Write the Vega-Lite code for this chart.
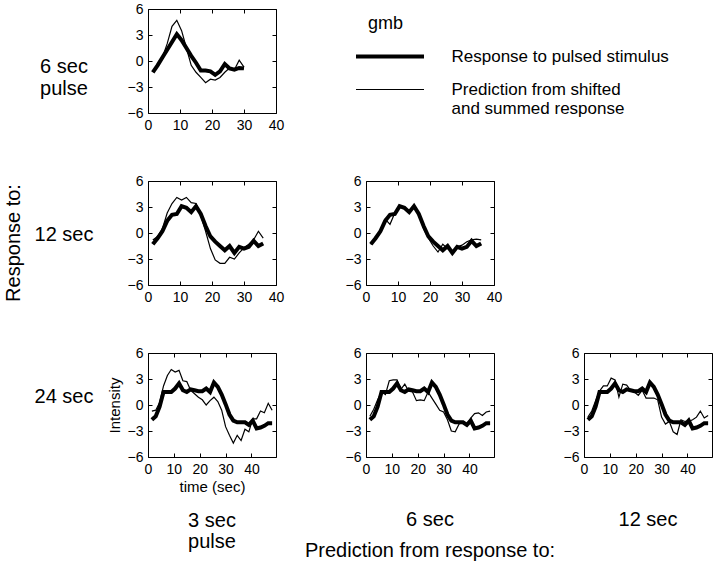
{
  "$schema": "https://vega.github.io/schema/vega-lite/v6.json",
  "background": "white",
  "padding": {"left": 0, "top": 1, "right": 5, "bottom": 5},
  "autosize": {"type": "pad"},
  "datasets": {
    "resp": [
      {"r":"6 sec","t":1.5,"v":-1.3},{"r":"6 sec","t":3,"v":-0.5},{"r":"6 sec","t":4.5,"v":0.4},{"r":"6 sec","t":6,"v":1.3},{"r":"6 sec","t":7.5,"v":2.2},{"r":"6 sec","t":9,"v":3.1},{"r":"6 sec","t":10.5,"v":2.4},{"r":"6 sec","t":12,"v":1.5},{"r":"6 sec","t":13.5,"v":0.6},{"r":"6 sec","t":15,"v":-0.2},{"r":"6 sec","t":16.5,"v":-1.1},{"r":"6 sec","t":18,"v":-1.1},{"r":"6 sec","t":19.5,"v":-1.2},{"r":"6 sec","t":21,"v":-1.6},{"r":"6 sec","t":22.5,"v":-1.2},{"r":"6 sec","t":24,"v":-0.35},{"r":"6 sec","t":25.5,"v":-0.85},{"r":"6 sec","t":27,"v":-1.0},{"r":"6 sec","t":28.5,"v":-0.8},{"r":"6 sec","t":30,"v":-0.85},
      {"r":"12 sec","t":1.5,"v":-1.3},{"r":"12 sec","t":3,"v":-0.6},{"r":"12 sec","t":4.5,"v":0.2},{"r":"12 sec","t":6,"v":1.4},{"r":"12 sec","t":7.5,"v":2.1},{"r":"12 sec","t":9,"v":2.2},{"r":"12 sec","t":10.5,"v":3.1},{"r":"12 sec","t":12,"v":2.9},{"r":"12 sec","t":13.5,"v":2.4},{"r":"12 sec","t":15,"v":3.1},{"r":"12 sec","t":16.5,"v":2.2},{"r":"12 sec","t":18,"v":0.8},{"r":"12 sec","t":19.5,"v":-0.4},{"r":"12 sec","t":21,"v":-1.0},{"r":"12 sec","t":22.5,"v":-1.5},{"r":"12 sec","t":24,"v":-2.0},{"r":"12 sec","t":25.5,"v":-1.5},{"r":"12 sec","t":27,"v":-2.3},{"r":"12 sec","t":28.5,"v":-1.6},{"r":"12 sec","t":30,"v":-1.8},{"r":"12 sec","t":31.5,"v":-1.6},{"r":"12 sec","t":33,"v":-0.9},{"r":"12 sec","t":34.5,"v":-1.5},{"r":"12 sec","t":36,"v":-1.2},
      {"r":"24 sec","t":1.5,"v":-1.7},{"r":"24 sec","t":3,"v":-1.3},{"r":"24 sec","t":4.5,"v":-0.2},{"r":"24 sec","t":6,"v":1.5},{"r":"24 sec","t":7.5,"v":1.5},{"r":"24 sec","t":9,"v":1.5},{"r":"24 sec","t":10.5,"v":1.9},{"r":"24 sec","t":12,"v":2.5},{"r":"24 sec","t":13.5,"v":1.7},{"r":"24 sec","t":15,"v":1.5},{"r":"24 sec","t":16.5,"v":1.8},{"r":"24 sec","t":18,"v":1.7},{"r":"24 sec","t":19.5,"v":1.6},{"r":"24 sec","t":21,"v":1.6},{"r":"24 sec","t":22.5,"v":1.9},{"r":"24 sec","t":24,"v":1.5},{"r":"24 sec","t":25.5,"v":2.6},{"r":"24 sec","t":27,"v":2.1},{"r":"24 sec","t":28.5,"v":1.2},{"r":"24 sec","t":30,"v":0.1},{"r":"24 sec","t":31.5,"v":-1.1},{"r":"24 sec","t":33,"v":-1.8},{"r":"24 sec","t":34.5,"v":-2.0},{"r":"24 sec","t":36,"v":-2.0},{"r":"24 sec","t":37.5,"v":-2.0},{"r":"24 sec","t":39,"v":-2.3},{"r":"24 sec","t":40.5,"v":-1.8},{"r":"24 sec","t":42,"v":-2.7},{"r":"24 sec","t":43.5,"v":-2.6},{"r":"24 sec","t":45,"v":-2.4},{"r":"24 sec","t":46.5,"v":-2.1},{"r":"24 sec","t":48,"v":-2.1}
    ],
    "pred": [
      {"r":"6 sec","p":"3 sec","t":1.5,"v":-1.2},{"r":"6 sec","p":"3 sec","t":3,"v":-0.6},{"r":"6 sec","p":"3 sec","t":4.5,"v":0.4},{"r":"6 sec","p":"3 sec","t":6,"v":2.0},{"r":"6 sec","p":"3 sec","t":7.5,"v":4.0},{"r":"6 sec","p":"3 sec","t":9,"v":4.7},{"r":"6 sec","p":"3 sec","t":10.5,"v":3.5},{"r":"6 sec","p":"3 sec","t":12,"v":1.5},{"r":"6 sec","p":"3 sec","t":13.5,"v":-0.5},{"r":"6 sec","p":"3 sec","t":15,"v":-1.3},{"r":"6 sec","p":"3 sec","t":16.5,"v":-1.9},{"r":"6 sec","p":"3 sec","t":18,"v":-2.5},{"r":"6 sec","p":"3 sec","t":19.5,"v":-2.1},{"r":"6 sec","p":"3 sec","t":21,"v":-2.2},{"r":"6 sec","p":"3 sec","t":22.5,"v":-1.9},{"r":"6 sec","p":"3 sec","t":24,"v":-1.3},{"r":"6 sec","p":"3 sec","t":25.5,"v":-0.8},{"r":"6 sec","p":"3 sec","t":27,"v":-1.0},{"r":"6 sec","p":"3 sec","t":28.5,"v":0.1},{"r":"6 sec","p":"3 sec","t":30,"v":-0.7},
      {"r":"12 sec","p":"3 sec","t":1.5,"v":-0.8},{"r":"12 sec","p":"3 sec","t":3,"v":-0.4},{"r":"12 sec","p":"3 sec","t":4.5,"v":0.5},{"r":"12 sec","p":"3 sec","t":6,"v":2.3},{"r":"12 sec","p":"3 sec","t":7.5,"v":3.4},{"r":"12 sec","p":"3 sec","t":9,"v":4.1},{"r":"12 sec","p":"3 sec","t":10.5,"v":3.8},{"r":"12 sec","p":"3 sec","t":12,"v":4.1},{"r":"12 sec","p":"3 sec","t":13.5,"v":3.5},{"r":"12 sec","p":"3 sec","t":15,"v":3.4},{"r":"12 sec","p":"3 sec","t":16.5,"v":2.0},{"r":"12 sec","p":"3 sec","t":18,"v":0.2},{"r":"12 sec","p":"3 sec","t":19.5,"v":-1.8},{"r":"12 sec","p":"3 sec","t":21,"v":-3.1},{"r":"12 sec","p":"3 sec","t":22.5,"v":-3.5},{"r":"12 sec","p":"3 sec","t":24,"v":-3.5},{"r":"12 sec","p":"3 sec","t":25.5,"v":-2.8},{"r":"12 sec","p":"3 sec","t":27,"v":-3.0},{"r":"12 sec","p":"3 sec","t":28.5,"v":-2.3},{"r":"12 sec","p":"3 sec","t":30,"v":-1.7},{"r":"12 sec","p":"3 sec","t":31.5,"v":-1.3},{"r":"12 sec","p":"3 sec","t":33,"v":-0.8},{"r":"12 sec","p":"3 sec","t":34.5,"v":0.2},{"r":"12 sec","p":"3 sec","t":36,"v":-0.6},
      {"r":"12 sec","p":"6 sec","t":1.5,"v":-1.3},{"r":"12 sec","p":"6 sec","t":3,"v":-0.6},{"r":"12 sec","p":"6 sec","t":4.5,"v":0.3},{"r":"12 sec","p":"6 sec","t":6,"v":1.6},{"r":"12 sec","p":"6 sec","t":7.5,"v":1.0},{"r":"12 sec","p":"6 sec","t":9,"v":2.3},{"r":"12 sec","p":"6 sec","t":10.5,"v":3.1},{"r":"12 sec","p":"6 sec","t":12,"v":2.8},{"r":"12 sec","p":"6 sec","t":13.5,"v":2.6},{"r":"12 sec","p":"6 sec","t":15,"v":2.9},{"r":"12 sec","p":"6 sec","t":16.5,"v":2.2},{"r":"12 sec","p":"6 sec","t":18,"v":0.5},{"r":"12 sec","p":"6 sec","t":19.5,"v":-0.6},{"r":"12 sec","p":"6 sec","t":21,"v":-1.5},{"r":"12 sec","p":"6 sec","t":22.5,"v":-2.2},{"r":"12 sec","p":"6 sec","t":24,"v":-1.3},{"r":"12 sec","p":"6 sec","t":25.5,"v":-1.8},{"r":"12 sec","p":"6 sec","t":27,"v":-2.2},{"r":"12 sec","p":"6 sec","t":28.5,"v":-1.6},{"r":"12 sec","p":"6 sec","t":30,"v":-1.4},{"r":"12 sec","p":"6 sec","t":31.5,"v":-1.0},{"r":"12 sec","p":"6 sec","t":33,"v":-0.8},{"r":"12 sec","p":"6 sec","t":34.5,"v":-0.7},{"r":"12 sec","p":"6 sec","t":36,"v":-0.8},
      {"r":"24 sec","p":"3 sec","t":1.5,"v":-0.7},{"r":"24 sec","p":"3 sec","t":3,"v":-0.6},{"r":"24 sec","p":"3 sec","t":4.5,"v":0.3},{"r":"24 sec","p":"3 sec","t":6,"v":2.2},{"r":"24 sec","p":"3 sec","t":7.5,"v":3.4},{"r":"24 sec","p":"3 sec","t":9,"v":4.1},{"r":"24 sec","p":"3 sec","t":10.5,"v":3.8},{"r":"24 sec","p":"3 sec","t":12,"v":4.0},{"r":"24 sec","p":"3 sec","t":13.5,"v":2.8},{"r":"24 sec","p":"3 sec","t":15,"v":2.7},{"r":"24 sec","p":"3 sec","t":16.5,"v":1.7},{"r":"24 sec","p":"3 sec","t":18,"v":1.3},{"r":"24 sec","p":"3 sec","t":19.5,"v":0.9},{"r":"24 sec","p":"3 sec","t":21,"v":0.6},{"r":"24 sec","p":"3 sec","t":22.5,"v":0.0},{"r":"24 sec","p":"3 sec","t":24,"v":0.5},{"r":"24 sec","p":"3 sec","t":25.5,"v":0.9},{"r":"24 sec","p":"3 sec","t":27,"v":0.4},{"r":"24 sec","p":"3 sec","t":28.5,"v":-0.6},{"r":"24 sec","p":"3 sec","t":30,"v":-2.5},{"r":"24 sec","p":"3 sec","t":31.5,"v":-3.5},{"r":"24 sec","p":"3 sec","t":33,"v":-4.4},{"r":"24 sec","p":"3 sec","t":34.5,"v":-3.5},{"r":"24 sec","p":"3 sec","t":36,"v":-4.1},{"r":"24 sec","p":"3 sec","t":37.5,"v":-2.8},{"r":"24 sec","p":"3 sec","t":39,"v":-3.1},{"r":"24 sec","p":"3 sec","t":40.5,"v":-1.6},{"r":"24 sec","p":"3 sec","t":42,"v":-1.6},{"r":"24 sec","p":"3 sec","t":43.5,"v":-0.7},{"r":"24 sec","p":"3 sec","t":45,"v":-0.9},{"r":"24 sec","p":"3 sec","t":46.5,"v":0.2},{"r":"24 sec","p":"3 sec","t":48,"v":-0.6},
      {"r":"24 sec","p":"6 sec","t":1.5,"v":-1.3},{"r":"24 sec","p":"6 sec","t":3,"v":-0.5},{"r":"24 sec","p":"6 sec","t":4.5,"v":0.6},{"r":"24 sec","p":"6 sec","t":6,"v":1.5},{"r":"24 sec","p":"6 sec","t":7.5,"v":1.2},{"r":"24 sec","p":"6 sec","t":9,"v":2.8},{"r":"24 sec","p":"6 sec","t":10.5,"v":2.9},{"r":"24 sec","p":"6 sec","t":12,"v":2.9},{"r":"24 sec","p":"6 sec","t":13.5,"v":1.8},{"r":"24 sec","p":"6 sec","t":15,"v":2.4},{"r":"24 sec","p":"6 sec","t":16.5,"v":1.6},{"r":"24 sec","p":"6 sec","t":18,"v":1.5},{"r":"24 sec","p":"6 sec","t":19.5,"v":0.5},{"r":"24 sec","p":"6 sec","t":21,"v":0.6},{"r":"24 sec","p":"6 sec","t":22.5,"v":0.5},{"r":"24 sec","p":"6 sec","t":24,"v":1.5},{"r":"24 sec","p":"6 sec","t":25.5,"v":0.8},{"r":"24 sec","p":"6 sec","t":27,"v":0.1},{"r":"24 sec","p":"6 sec","t":28.5,"v":-0.6},{"r":"24 sec","p":"6 sec","t":30,"v":-0.8},{"r":"24 sec","p":"6 sec","t":31.5,"v":-1.7},{"r":"24 sec","p":"6 sec","t":33,"v":-3.0},{"r":"24 sec","p":"6 sec","t":34.5,"v":-3.1},{"r":"24 sec","p":"6 sec","t":36,"v":-2.2},{"r":"24 sec","p":"6 sec","t":37.5,"v":-2.0},{"r":"24 sec","p":"6 sec","t":39,"v":-2.3},{"r":"24 sec","p":"6 sec","t":40.5,"v":-1.5},{"r":"24 sec","p":"6 sec","t":42,"v":-1.0},{"r":"24 sec","p":"6 sec","t":43.5,"v":-0.9},{"r":"24 sec","p":"6 sec","t":45,"v":-1.2},{"r":"24 sec","p":"6 sec","t":46.5,"v":-0.8},{"r":"24 sec","p":"6 sec","t":48,"v":-0.7},
      {"r":"24 sec","p":"12 sec","t":1.5,"v":-1.4},{"r":"24 sec","p":"12 sec","t":3,"v":-0.7},{"r":"24 sec","p":"12 sec","t":4.5,"v":0.5},{"r":"24 sec","p":"12 sec","t":6,"v":1.6},{"r":"24 sec","p":"12 sec","t":7.5,"v":2.2},{"r":"24 sec","p":"12 sec","t":9,"v":2.2},{"r":"24 sec","p":"12 sec","t":10.5,"v":3.1},{"r":"24 sec","p":"12 sec","t":12,"v":2.9},{"r":"24 sec","p":"12 sec","t":13.5,"v":0.9},{"r":"24 sec","p":"12 sec","t":15,"v":2.4},{"r":"24 sec","p":"12 sec","t":16.5,"v":2.3},{"r":"24 sec","p":"12 sec","t":18,"v":1.7},{"r":"24 sec","p":"12 sec","t":19.5,"v":1.5},{"r":"24 sec","p":"12 sec","t":21,"v":1.1},{"r":"24 sec","p":"12 sec","t":22.5,"v":1.7},{"r":"24 sec","p":"12 sec","t":24,"v":0.8},{"r":"24 sec","p":"12 sec","t":25.5,"v":0.8},{"r":"24 sec","p":"12 sec","t":27,"v":0.8},{"r":"24 sec","p":"12 sec","t":28.5,"v":0.6},{"r":"24 sec","p":"12 sec","t":30,"v":-1.4},{"r":"24 sec","p":"12 sec","t":31.5,"v":-2.2},{"r":"24 sec","p":"12 sec","t":33,"v":-1.9},{"r":"24 sec","p":"12 sec","t":34.5,"v":-3.1},{"r":"24 sec","p":"12 sec","t":36,"v":-3.4},{"r":"24 sec","p":"12 sec","t":37.5,"v":-1.7},{"r":"24 sec","p":"12 sec","t":39,"v":-1.9},{"r":"24 sec","p":"12 sec","t":40.5,"v":-1.9},{"r":"24 sec","p":"12 sec","t":42,"v":-1.7},{"r":"24 sec","p":"12 sec","t":43.5,"v":-1.4},{"r":"24 sec","p":"12 sec","t":45,"v":-0.7},{"r":"24 sec","p":"12 sec","t":46.5,"v":-1.5},{"r":"24 sec","p":"12 sec","t":48,"v":-1.2}
    ]
  },
  "columns": 4,
  "bounds": "flush",
  "spacing": {"row": 68, "column": 90},
  "concat": [
    {"width": 58, "height": 104, "view": {"stroke": null}, "data": {"values": [{"s": "6 sec\npulse"}]}, "mark": {"type": "text", "dx": 35, "dy": 6, "lineBreak": "\n", "lineHeight": 22}, "encoding": {"text": {"field": "s"}}},
    {"width": 128, "height": 104,
     "layer": [
      {"data": {"name": "resp"}, "transform": [{"filter": "datum.r == '6 sec'"}], "mark": {"type": "line", "color": "black"},
       "encoding": {"x": {"field": "t", "type": "quantitative", "scale": {"domain": [0, 40], "nice": false, "zero": false}, "axis": {"orient": "top", "labels": false, "title": null, "values": [0, 10, 20, 30, 40]}},
                    "y": {"field": "v", "type": "quantitative", "scale": {"domain": [-6, 6], "nice": false}, "axis": {"orient": "right", "labels": false, "title": null, "values": [-6, -3, 0, 3, 6]}},
                    "strokeWidth": {"datum": "Response to pulsed stimulus", "type": "ordinal", "title": "gmb", "scale": {"domain": ["Response to pulsed stimulus", "Prediction  from shifted\nand summed response"], "range": [4, 1.2]}, "legend": {"orient": "none", "legendX": 368, "legendY": 6, "symbolType": "M-10,0H10", "labelExpr": "split(datum.label, '\\n')"}}}},
      {"data": {"name": "pred"}, "transform": [{"filter": "datum.r == '6 sec' && datum.p == '3 sec'"}], "mark": {"type": "line", "color": "black"},
       "encoding": {"x": {"field": "t", "type": "quantitative", "scale": {"domain": [0, 40], "nice": false, "zero": false}, "axis": {"orient": "bottom", "title": null, "values": [0, 10, 20, 30, 40]}},
                    "y": {"field": "v", "type": "quantitative", "scale": {"domain": [-6, 6], "nice": false}, "axis": {"orient": "left", "title": null, "values": [-6, -3, 0, 3, 6]}},
                    "strokeWidth": {"datum": "Prediction  from shifted\nand summed response", "type": "ordinal", "title": "gmb", "scale": {"domain": ["Response to pulsed stimulus", "Prediction  from shifted\nand summed response"], "range": [4, 1.2]}, "legend": {"orient": "none", "legendX": 368, "legendY": 6, "symbolType": "M-10,0H10", "labelExpr": "split(datum.label, '\\n')"}}}}
     ],
     "resolve": {"axis": {"x": "independent", "y": "independent"}}},
    {"width": 128, "height": 104, "view": {"stroke": null}, "data": {"values": [{}]}, "mark": "text"},
    {"width": 128, "height": 104, "view": {"stroke": null}, "data": {"values": [{}]}, "mark": "text"},

    {"width": 58, "height": 104, "view": {"stroke": null},
     "layer": [
      {"data": {"values": [{"s": "12 sec"}]}, "mark": {"type": "text", "dx": 35, "dy": 2}, "encoding": {"text": {"field": "s"}}},
      {"data": {"values": [{"s": "Response to:"}]}, "mark": {"type": "text", "angle": 270, "dx": -10, "dy": -15}, "encoding": {"text": {"field": "s"}}}
     ]},
    {"width": 128, "height": 104,
     "layer": [
      {"data": {"name": "resp"}, "transform": [{"filter": "datum.r == '12 sec'"}], "mark": {"type": "line", "color": "black"},
       "encoding": {"x": {"field": "t", "type": "quantitative", "scale": {"domain": [0, 40], "nice": false, "zero": false}, "axis": {"orient": "top", "labels": false, "title": null, "values": [0, 10, 20, 30, 40]}},
                    "y": {"field": "v", "type": "quantitative", "scale": {"domain": [-6, 6], "nice": false}, "axis": {"orient": "right", "labels": false, "title": null, "values": [-6, -3, 0, 3, 6]}},
                    "strokeWidth": {"datum": "Response to pulsed stimulus", "type": "ordinal", "title": "gmb", "scale": {"domain": ["Response to pulsed stimulus", "Prediction  from shifted\nand summed response"], "range": [4, 1.2]}, "legend": {"orient": "none", "legendX": 368, "legendY": 6, "symbolType": "M-10,0H10", "labelExpr": "split(datum.label, '\\n')"}}}},
      {"data": {"name": "pred"}, "transform": [{"filter": "datum.r == '12 sec' && datum.p == '3 sec'"}], "mark": {"type": "line", "color": "black"},
       "encoding": {"x": {"field": "t", "type": "quantitative", "scale": {"domain": [0, 40], "nice": false, "zero": false}, "axis": {"orient": "bottom", "title": null, "values": [0, 10, 20, 30, 40]}},
                    "y": {"field": "v", "type": "quantitative", "scale": {"domain": [-6, 6], "nice": false}, "axis": {"orient": "left", "title": null, "values": [-6, -3, 0, 3, 6]}},
                    "strokeWidth": {"datum": "Prediction  from shifted\nand summed response", "type": "ordinal", "title": "gmb", "scale": {"domain": ["Response to pulsed stimulus", "Prediction  from shifted\nand summed response"], "range": [4, 1.2]}, "legend": {"orient": "none", "legendX": 368, "legendY": 6, "symbolType": "M-10,0H10", "labelExpr": "split(datum.label, '\\n')"}}}}
     ],
     "resolve": {"axis": {"x": "independent", "y": "independent"}}},
    {"width": 128, "height": 104,
     "layer": [
      {"data": {"name": "resp"}, "transform": [{"filter": "datum.r == '12 sec'"}], "mark": {"type": "line", "color": "black"},
       "encoding": {"x": {"field": "t", "type": "quantitative", "scale": {"domain": [0, 40], "nice": false, "zero": false}, "axis": {"orient": "top", "labels": false, "title": null, "values": [0, 10, 20, 30, 40]}},
                    "y": {"field": "v", "type": "quantitative", "scale": {"domain": [-6, 6], "nice": false}, "axis": {"orient": "right", "labels": false, "title": null, "values": [-6, -3, 0, 3, 6]}},
                    "strokeWidth": {"datum": "Response to pulsed stimulus", "type": "ordinal", "title": "gmb", "scale": {"domain": ["Response to pulsed stimulus", "Prediction  from shifted\nand summed response"], "range": [4, 1.2]}, "legend": {"orient": "none", "legendX": 368, "legendY": 6, "symbolType": "M-10,0H10", "labelExpr": "split(datum.label, '\\n')"}}}},
      {"data": {"name": "pred"}, "transform": [{"filter": "datum.r == '12 sec' && datum.p == '6 sec'"}], "mark": {"type": "line", "color": "black"},
       "encoding": {"x": {"field": "t", "type": "quantitative", "scale": {"domain": [0, 40], "nice": false, "zero": false}, "axis": {"orient": "bottom", "title": null, "values": [0, 10, 20, 30, 40]}},
                    "y": {"field": "v", "type": "quantitative", "scale": {"domain": [-6, 6], "nice": false}, "axis": {"orient": "left", "title": null, "values": [-6, -3, 0, 3, 6]}},
                    "strokeWidth": {"datum": "Prediction  from shifted\nand summed response", "type": "ordinal", "title": "gmb", "scale": {"domain": ["Response to pulsed stimulus", "Prediction  from shifted\nand summed response"], "range": [4, 1.2]}, "legend": {"orient": "none", "legendX": 368, "legendY": 6, "symbolType": "M-10,0H10", "labelExpr": "split(datum.label, '\\n')"}}}}
     ],
     "resolve": {"axis": {"x": "independent", "y": "independent"}}},
    {"width": 128, "height": 104, "view": {"stroke": null}, "data": {"values": [{}]}, "mark": "text"},

    {"width": 58, "height": 104, "view": {"stroke": null}, "data": {"values": [{"s": "24 sec"}]}, "mark": {"type": "text", "dx": 35, "dy": -8}, "encoding": {"text": {"field": "s"}}},
    {"width": 128, "height": 104,
     "layer": [
      {"data": {"name": "resp"}, "transform": [{"filter": "datum.r == '24 sec'"}], "mark": {"type": "line", "color": "black"},
       "encoding": {"x": {"field": "t", "type": "quantitative", "scale": {"domain": [0, 49.5], "nice": false, "zero": false}, "axis": {"orient": "top", "labels": false, "title": null, "values": [0, 10, 20, 30, 40]}},
                    "y": {"field": "v", "type": "quantitative", "scale": {"domain": [-6, 6], "nice": false}, "axis": {"orient": "right", "labels": false, "title": null, "values": [-6, -3, 0, 3, 6]}},
                    "strokeWidth": {"datum": "Response to pulsed stimulus", "type": "ordinal", "title": "gmb", "scale": {"domain": ["Response to pulsed stimulus", "Prediction  from shifted\nand summed response"], "range": [4, 1.2]}, "legend": {"orient": "none", "legendX": 368, "legendY": 6, "symbolType": "M-10,0H10", "labelExpr": "split(datum.label, '\\n')"}}}},
      {"data": {"name": "pred"}, "transform": [{"filter": "datum.r == '24 sec' && datum.p == '3 sec'"}], "mark": {"type": "line", "color": "black"},
       "encoding": {"x": {"field": "t", "type": "quantitative", "scale": {"domain": [0, 49.5], "nice": false, "zero": false}, "axis": {"orient": "bottom", "title": "time (sec)", "titlePadding": 3, "values": [0, 10, 20, 30, 40]}},
                    "y": {"field": "v", "type": "quantitative", "scale": {"domain": [-6, 6], "nice": false}, "axis": {"orient": "left", "title": "Intensity", "titlePadding": 5, "values": [-6, -3, 0, 3, 6]}},
                    "strokeWidth": {"datum": "Prediction  from shifted\nand summed response", "type": "ordinal", "title": "gmb", "scale": {"domain": ["Response to pulsed stimulus", "Prediction  from shifted\nand summed response"], "range": [4, 1.2]}, "legend": {"orient": "none", "legendX": 368, "legendY": 6, "symbolType": "M-10,0H10", "labelExpr": "split(datum.label, '\\n')"}}}}
     ],
     "resolve": {"axis": {"x": "independent", "y": "independent"}}},
    {"width": 128, "height": 104,
     "layer": [
      {"data": {"name": "resp"}, "transform": [{"filter": "datum.r == '24 sec'"}], "mark": {"type": "line", "color": "black"},
       "encoding": {"x": {"field": "t", "type": "quantitative", "scale": {"domain": [0, 49.5], "nice": false, "zero": false}, "axis": {"orient": "top", "labels": false, "title": null, "values": [0, 10, 20, 30, 40]}},
                    "y": {"field": "v", "type": "quantitative", "scale": {"domain": [-6, 6], "nice": false}, "axis": {"orient": "right", "labels": false, "title": null, "values": [-6, -3, 0, 3, 6]}},
                    "strokeWidth": {"datum": "Response to pulsed stimulus", "type": "ordinal", "title": "gmb", "scale": {"domain": ["Response to pulsed stimulus", "Prediction  from shifted\nand summed response"], "range": [4, 1.2]}, "legend": {"orient": "none", "legendX": 368, "legendY": 6, "symbolType": "M-10,0H10", "labelExpr": "split(datum.label, '\\n')"}}}},
      {"data": {"name": "pred"}, "transform": [{"filter": "datum.r == '24 sec' && datum.p == '6 sec'"}], "mark": {"type": "line", "color": "black"},
       "encoding": {"x": {"field": "t", "type": "quantitative", "scale": {"domain": [0, 49.5], "nice": false, "zero": false}, "axis": {"orient": "bottom", "title": null, "values": [0, 10, 20, 30, 40]}},
                    "y": {"field": "v", "type": "quantitative", "scale": {"domain": [-6, 6], "nice": false}, "axis": {"orient": "left", "title": null, "values": [-6, -3, 0, 3, 6]}},
                    "strokeWidth": {"datum": "Prediction  from shifted\nand summed response", "type": "ordinal", "title": "gmb", "scale": {"domain": ["Response to pulsed stimulus", "Prediction  from shifted\nand summed response"], "range": [4, 1.2]}, "legend": {"orient": "none", "legendX": 368, "legendY": 6, "symbolType": "M-10,0H10", "labelExpr": "split(datum.label, '\\n')"}}}}
     ],
     "resolve": {"axis": {"x": "independent", "y": "independent"}}},
    {"width": 128, "height": 104,
     "layer": [
      {"data": {"name": "resp"}, "transform": [{"filter": "datum.r == '24 sec'"}], "mark": {"type": "line", "color": "black"},
       "encoding": {"x": {"field": "t", "type": "quantitative", "scale": {"domain": [0, 49.5], "nice": false, "zero": false}, "axis": {"orient": "top", "labels": false, "title": null, "values": [0, 10, 20, 30, 40]}},
                    "y": {"field": "v", "type": "quantitative", "scale": {"domain": [-6, 6], "nice": false}, "axis": {"orient": "right", "labels": false, "title": null, "values": [-6, -3, 0, 3, 6]}},
                    "strokeWidth": {"datum": "Response to pulsed stimulus", "type": "ordinal", "title": "gmb", "scale": {"domain": ["Response to pulsed stimulus", "Prediction  from shifted\nand summed response"], "range": [4, 1.2]}, "legend": {"orient": "none", "legendX": 368, "legendY": 6, "symbolType": "M-10,0H10", "labelExpr": "split(datum.label, '\\n')"}}}},
      {"data": {"name": "pred"}, "transform": [{"filter": "datum.r == '24 sec' && datum.p == '12 sec'"}], "mark": {"type": "line", "color": "black"},
       "encoding": {"x": {"field": "t", "type": "quantitative", "scale": {"domain": [0, 49.5], "nice": false, "zero": false}, "axis": {"orient": "bottom", "title": null, "values": [0, 10, 20, 30, 40]}},
                    "y": {"field": "v", "type": "quantitative", "scale": {"domain": [-6, 6], "nice": false}, "axis": {"orient": "left", "title": null, "values": [-6, -3, 0, 3, 6]}},
                    "strokeWidth": {"datum": "Prediction  from shifted\nand summed response", "type": "ordinal", "title": "gmb", "scale": {"domain": ["Response to pulsed stimulus", "Prediction  from shifted\nand summed response"], "range": [4, 1.2]}, "legend": {"orient": "none", "legendX": 368, "legendY": 6, "symbolType": "M-10,0H10", "labelExpr": "split(datum.label, '\\n')"}}}}
     ],
     "resolve": {"axis": {"x": "independent", "y": "independent"}}},

    {"width": 58, "height": 30, "view": {"stroke": null}, "data": {"values": [{}]}, "mark": "text"},
    {"width": 128, "height": 30, "view": {"stroke": null}, "data": {"values": [{"s": "3 sec\npulse"}]}, "mark": {"type": "text", "dy": -19, "lineBreak": "\n", "lineHeight": 21}, "encoding": {"text": {"field": "s"}}},
    {"width": 128, "height": 30, "view": {"stroke": null},
     "layer": [
      {"data": {"values": [{"s": "6 sec"}]}, "mark": {"type": "text", "dy": -20}, "encoding": {"text": {"field": "s"}}},
      {"data": {"values": [{"s": "Prediction from response to:"}]}, "mark": {"type": "text", "dy": 11}, "encoding": {"text": {"field": "s"}}}
     ]},
    {"width": 128, "height": 30, "view": {"stroke": null}, "data": {"values": [{"s": "12 sec"}]}, "mark": {"type": "text", "dy": -20}, "encoding": {"text": {"field": "s"}}}
  ],
  "config": {
    "font": "Liberation Sans",
    "view": {"stroke": "black", "strokeWidth": 1},
    "axis": {"grid": false, "domain": false, "tickColor": "black", "tickSize": -4, "tickWidth": 1, "labelColor": "black", "labelFontSize": 14, "labelPadding": 9, "labelFlush": false, "labelOverlap": false, "titleColor": "black", "titleFontWeight": "normal", "titleFontSize": 15},
    "text": {"color": "black", "fontSize": 20},
    "legend": {"padding": 0, "titleFontSize": 18, "titleFontWeight": "normal", "titleColor": "black", "titlePadding": 15, "labelFontSize": 17, "labelColor": "black", "labelLimit": 0, "labelOffset": 53, "symbolOffset": 13.5, "symbolSize": 46.24, "symbolStrokeColor": "black", "symbolFillColor": "transparent", "rowPadding": 15}
  }
}
